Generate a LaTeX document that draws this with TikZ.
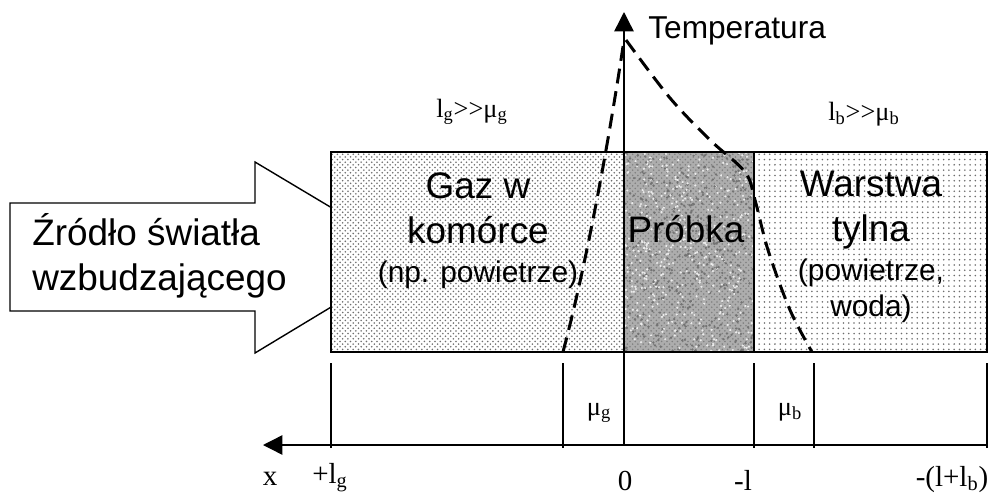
\documentclass[tikz,border=0pt]{standalone}
\usepackage{fontspec}
\setmainfont{Liberation Serif}
\setsansfont{Liberation Sans}
\usepackage{tikz}
\usetikzlibrary{arrows.meta, patterns}
\definecolor{dotGrey}{HTML}{6E6E6E}
\definecolor{probeGrey}{HTML}{ADADAD}
\newcommand{\smallsf}{\fontsize{17}{20}\selectfont}

\begin{document}
\begin{tikzpicture}[x=0.2mm, y=-0.2mm, >={Triangle[length=11pt, width=11pt]},
  big/.style={font=\sffamily\fontsize{21}{25.5}\selectfont, inner sep=0pt},
  tnr/.style={font=\rmfamily\fontsize{15}{18}\selectfont, inner sep=0pt, anchor=base},
  axlbl/.style={tnr, font=\rmfamily\fontsize{16.5}{19}\selectfont},
  layer/.style={draw=black, line width=0.8pt},
  tempcurve/.style={line width=1.7pt, dash pattern=on 8.5pt off 4.5pt}]
  \useasboundingbox (0,0) rectangle (995,497);

  % light source arrow (its tip runs under the cell)
  \draw[line width=0.8pt, fill=white] (10,203) -- (255,203) -- (255,162) -- (414,257)
    -- (255,353) -- (255,311) -- (10,311) -- cycle;
  \node[big, align=left, anchor=west] (src) at (32,256) {Źródło światła\\wzbudzającego};

  % the three layers
  \fill[white] (331,152) rectangle (987,352);
  \fill[pattern=crosshatch dots, pattern color=dotGrey] (331,152) rectangle (624,352);
  \fill[probeGrey] (624,152) rectangle (754,352);
  \fill[pattern=crosshatch dots, pattern color=black!50] (624,152) rectangle (754,352);
  \pgfmathsetseed{11}
  \foreach \i in {1,...,450} {
    \fill[black!55] ({624+130*rnd},{152+200*rnd}) circle (1.3);
    \fill[white!85!gray] ({624+130*rnd},{152+200*rnd}) circle (1.2);
  }
  \fill[pattern=dots, pattern color=dotGrey] (754,152) rectangle (987,352);
  \draw[layer] (331,152) rectangle (987,352);
  \draw[layer] (754,152) -- (754,352);

  % temperature profile
  \draw[tempcurve] (563,352) .. controls (590,250) and (612,120) .. (624,40);
  \draw[tempcurve] plot[smooth, tension=0.55] coordinates
    {(626,40) (670,98) (710,140) (745,172) (755,200) (768,250) (790,310) (812,352)};

  % axes
  \coordinate (tbot) at (624,445);
  \coordinate (ttop) at (624,12);
  \coordinate (xend) at (987,445);
  \coordinate (xtip) at (263,445);
  \draw[line width=0.8pt, ->] (tbot) -- (ttop);
  \draw[line width=0.8pt, ->] (xend) -- (xtip);
  \foreach \n/\px in {lg/331, mg/563, ml/754, mb/814, le/987} {
    \coordinate (u\n) at (\px,363);
    \coordinate (d\n) at (\px,448);
    \draw[line width=0.8pt] (u\n) -- (d\n);
  }

  % labels
  \node[big, anchor=base west, font=\sffamily\fontsize{18}{22}\selectfont] (temp) at (648,38) {Temperatura};
  \node[big, align=center] (gas) at (478,231) {Gaz w\\komórce\\[-3pt]{\smallsf (np. powietrze)}};
  \node[big] (probe) at (686,229) {Próbka};
  \node[big, align=center] (back) at (871,247) {Warstwa\\tylna\\[-3pt]{\smallsf (powietrze,}\\[-5pt]{\smallsf woda)}};
  \node[tnr] (gcond) at (472,117) {l\textsubscript{g}>{}>μ\textsubscript{g}};
  \node[tnr] (bcond) at (864,120) {l\textsubscript{b}>{}>μ\textsubscript{b}};
  \node[tnr] (mug) at (599,415) {μ\textsubscript{g}};
  \node[tnr] (mub) at (790,415) {μ\textsubscript{b}};
  \node[axlbl] (xlbl) at (270,485) {x};
  \node[axlbl] (lgl) at (330,483) {+l\textsubscript{g}};
  \node[axlbl] (zero) at (625,490) {0};
  \node[axlbl] (minl) at (743,490) {-l};
  \node[axlbl] (minlb) at (952,486) {-(l+l\textsubscript{b})};
\end{tikzpicture}
\end{document}
